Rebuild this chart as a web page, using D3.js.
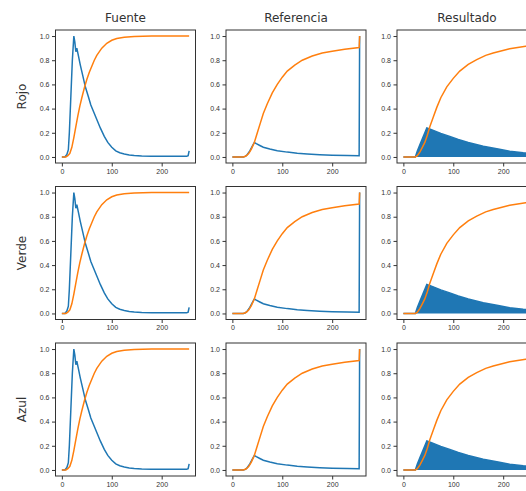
<!DOCTYPE html>
<html>
<head>
<meta charset="utf-8">
<script src="https://cdn.jsdelivr.net/npm/d3@7"></script>
<style>
  body { margin: 0; background: #fff; }
  svg { display: block; font-family: "DejaVu Sans", sans-serif; }
  .tick text { fill: #333; font-size: 7px; }
  .tick line { stroke: #333; }
</style>
</head>
<body>
<script>
// column titles, row labels, ticks
const columns = ["Fuente", "Referencia", "Resultado"];
const rows = ["Rojo", "Verde", "Azul"];
const xTicks = [0, 100, 200];
const yTicks = [0, 0.2, 0.4, 0.6, 0.8, 1.0];

// [level, value] (rows look the same)
const srcHist = [[0,0],[6,0],[10,0.02],[13,0.06],[15,0.2],[18,0.5],[21,0.8],[24,1.0],[26,0.95],[28,0.87],[30,0.9],[33,0.84],[37,0.76],[42,0.67],[47,0.58],[53,0.5],[58,0.43],[64,0.37],[70,0.31],[77,0.24],[85,0.17],[92,0.12],[100,0.08],[108,0.05],[116,0.035],[125,0.025],[135,0.017],[145,0.012],[160,0.008],[180,0.006],[220,0.005],[250,0.005],[253,0.01],[255,0.05]];
const srcCdf = [[0,0],[8,0],[12,0.01],[16,0.03],[20,0.08],[24,0.16],[28,0.25],[32,0.34],[36,0.42],[40,0.49],[45,0.57],[50,0.64],[55,0.7],[60,0.75],[65,0.8],[70,0.84],[80,0.9],[90,0.94],[100,0.965],[110,0.98],[125,0.99],[145,0.997],[180,1.0],[255,1.0]];

const refHist = [[0,0],[22,0],[26,0.005],[30,0.02],[35,0.05],[40,0.09],[44,0.12],[48,0.11],[55,0.095],[62,0.08],[75,0.065],[90,0.052],[110,0.04],[130,0.031],[150,0.025],[175,0.019],[200,0.015],[230,0.012],[254,0.01],[255,1.0]];
const refCdf = [[0,0],[22,0],[28,0.01],[33,0.03],[38,0.065],[44,0.12],[50,0.2],[56,0.28],[62,0.36],[70,0.44],[80,0.53],[90,0.6],[100,0.66],[110,0.71],[125,0.76],[140,0.8],[160,0.835],[180,0.86],[200,0.875],[225,0.89],[254,0.905],[255,1.0]];

const resHist = [[0,0],[24,0],[28,0.05],[33,0.1],[38,0.15],[43,0.2],[47,0.24],[50,0.235],[60,0.22],[75,0.195],[93,0.17],[110,0.145],[130,0.12],[160,0.088],[190,0.065],[213,0.048],[240,0.035],[254,0.03],[255,1.0]];
const resCdf = [[0,0],[24,0],[28,0.01],[33,0.04],[38,0.08],[43,0.12],[48,0.18],[53,0.25],[60,0.33],[67,0.41],[75,0.49],[87,0.58],[100,0.65],[113,0.71],[130,0.765],[147,0.805],[165,0.84],[180,0.86],[213,0.895],[245,0.915],[254,0.92],[255,1.0]];

const hists = [srcHist, refHist, resHist];
const cdfs = [srcCdf, refCdf, resCdf];

const W = 526, H = 491;
const colLeft = [55.5, 226, 397];
const rowTop = [30, 186.5, 343];
const pw = 140, ph = 133;
const blue = "#1f77b4", orange = "#ff7f0e";

const svg = d3.select("body").append("svg")
  .attr("width", W)
  .attr("height", H);

rows.forEach((rowName, r) => {
  columns.forEach((colName, c) => {
    const x0 = colLeft[c], y0 = rowTop[r];
    const x = d3.scaleLinear().domain([-12.75, 267.75]).range([x0, x0 + pw]);
    const y = d3.scaleLinear().domain([-0.05, 1.05]).range([y0 + ph, y0]);

    const clipId = "clip-" + r + "-" + c;
    svg.append("clipPath").attr("id", clipId)
      .append("rect")
      .attr("x", x0).attr("y", y0)
      .attr("width", pw).attr("height", ph);

    const g = svg.append("g").attr("clip-path", "url(#" + clipId + ")");

    const line = d3.line().x(d => x(d[0])).y(d => y(d[1]));

    if (c == 2) {
      // result histogram is so dense that it looks filled
      const area = d3.area().x(d => x(d[0])).y0(y(0)).y1(d => y(d[1]));
      g.append("path")
        .attr("d", area(hists[c]))
        .attr("fill", blue);
    }
    g.append("path")
      .attr("d", line(hists[c]))
      .attr("fill", "none")
      .attr("stroke", blue)
      .attr("stroke-width", 1.5);
    g.append("path")
      .attr("d", line(cdfs[c]))
      .attr("fill", "none")
      .attr("stroke", orange)
      .attr("stroke-width", 1.5);

    // frame
    svg.append("rect")
      .attr("x", x0).attr("y", y0)
      .attr("width", pw).attr("height", ph)
      .attr("fill", "none")
      .attr("stroke", "#333")
      .attr("stroke-width", 1);

    const xAxis = d3.axisBottom(x).tickValues(xTicks).tickSize(3.5).tickPadding(2.5);
    svg.append("g")
      .attr("transform", "translate(0," + (y0 + ph) + ")")
      .call(xAxis)
      .call(a => a.select(".domain").remove());

    const yAxis = d3.axisLeft(y).tickValues(yTicks).tickFormat(d3.format(".1f")).tickSize(3.5).tickPadding(2.5);
    svg.append("g")
      .attr("transform", "translate(" + x0 + ",0)")
      .call(yAxis)
      .call(a => a.select(".domain").remove());

    if (r == 0) {
      svg.append("text")
        .attr("x", x0 + pw / 2)
        .attr("y", 21.5)
        .attr("text-anchor", "middle")
        .attr("font-size", 12)
        .attr("fill", "#333")
        .text(colName);
    }
    if (c == 0) {
      svg.append("text")
        .attr("transform", "translate(25.5," + (y0 + ph / 2) + ") rotate(-90)")
        .attr("text-anchor", "middle")
        .attr("font-size", 12)
        .attr("fill", "#333")
        .text(rowName);
    }
  });
});
</script>
</body>
</html>
